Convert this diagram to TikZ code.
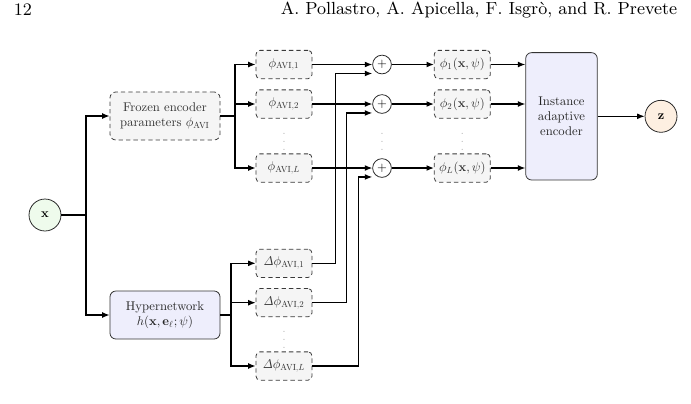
\documentclass[tikz,border=0pt]{standalone}
\usepackage{amsmath,amssymb,bm}
\usepackage{xcolor}
\usepackage{tikz}
\usetikzlibrary{arrows.meta,positioning,calc}
% figure is a scaled-down drawing: keep the 10pt design of CM at every size
\DeclareFontShape{OT1}{cmr}{m}{n}{<-> cmr10}{}
\DeclareFontShape{OT1}{cmr}{m}{it}{<-> cmti10}{}
\DeclareFontShape{OT1}{cmr}{bx}{n}{<-> cmbx10}{}
\DeclareFontShape{OML}{cmm}{m}{it}{<-> cmmi10}{}
\DeclareFontShape{OMS}{cmsy}{m}{n}{<-> cmsy10}{}
\definecolor{InGreen}{HTML}{EEFBEC}
\definecolor{OutPeach}{HTML}{FDEFE1}
\definecolor{NetLilac}{HTML}{EEEEFC}
\definecolor{ParGray}{HTML}{F5F5F5}
\definecolor{EdgeGray}{HTML}{3A3A3A}

\begin{document}
\begin{tikzpicture}[x=0.5128pt,y=-0.5128pt,
  font=\fontencoding{OT1}\fontfamily{cmr}\fontsize{6.5}{7.8}\selectfont,
  param/.style={draw=EdgeGray,dash pattern={on 2.2pt off 1.6pt},rounded corners=2pt,fill=ParGray,
    text=black!80,minimum width=28.7pt,minimum height=14.5pt,inner sep=1pt,align=center},
  netbox/.style={draw=black!80,rounded corners=3pt,fill=NetLilac,text=black!85,align=center},
  io/.style={draw=black!85,circle,minimum size=16.4pt,inner sep=0pt},
  sumnode/.style={draw=black!85,circle,minimum size=9.6pt,inner sep=0pt},
  arr/.style={-{Latex[length=3.8pt,width=3pt]},line width=0.6pt},
  wire/.style={line width=0.6pt},
  vdot/.style={text=black!30,font=\fontsize{5}{6}\selectfont}]
\useasboundingbox (0,0) rectangle (691,403);

% running head
\node[anchor=west,font=\small] (pg) at (7,10) {12};
\node[anchor=east,font=\small] (hd) at (684,10) {A. Pollastro, A. Apicella, F. Isgr\`o, and R. Prevete};

% input, frozen encoder, hypernetwork
\node[io,fill=InGreen] (x) at (45,215) {$\mathbf{x}$};
\node[param,minimum width=56.4pt,minimum height=24.6pt,rounded corners=3pt] (froz) at (165,116)
  {Frozen encoder\\parameters $\phi_{\mathrm{AVI}}$};
\node[netbox,minimum width=56.4pt,minimum height=24.6pt] (hyp) at (165,315)
  {Hypernetwork\\$h(\mathbf{x},\mathbf{e}_\ell;\psi)$};

% layer parameters, offsets, sums, adapted parameters
\foreach \i/\ya/\yd in {1/64.5/263.3,2/104/302.7,L/168/366}{
  \node[param] (a\i) at (284,\ya) {$\phi_{\mathrm{AVI},\i}$};
  \node[param] (d\i) at (284,\yd) {$\mathit{\Delta}\phi_{\mathrm{AVI},\i}$};
  \node[sumnode] (s\i) at (382,\ya) {$+$};
  \node[param] (b\i) at (462.3,\ya) {$\phi_\i(\mathbf{x},\psi)$};
}
\node[vdot] (va) at (284,136) {$\vdots$};
\node[vdot] (vd) at (284,334) {$\vdots$};
\node[vdot] (vs) at (382,136) {$\vdots$};
\node[vdot] (vb) at (462.3,136) {$\vdots$};

% instance adaptive encoder and output
\node[netbox,minimum width=36.7pt,minimum height=65.3pt] (enc) at (561.5,116.3)
  {Instance\\adaptive\\encoder};
\node[io,fill=OutPeach] (z) at (661,116.3) {$\mathbf{z}$};

% connectors
\coordinate (xs) at (86,215);
\coordinate (fs) at (235,116);
\coordinate (hs) at (231,315);
\draw[wire] (x) -- (xs);
\draw[arr] (xs) |- (froz);
\draw[arr] (xs) |- (hyp);
\draw[wire] (froz) -- (fs);
\draw[wire] (hyp) -- (hs);
\foreach \i/\dx in {1/23,2/34.3,L/46.3}{
  \draw[arr] (fs) |- (a\i);
  \draw[arr] (hs) |- (d\i);
  \draw[arr] (a\i) -- (s\i);
  \draw[arr] (d\i.east) -- ++(\dx,0) |- ([yshift=-4.6pt]s\i.west);
  \draw[arr] (s\i) -- (b\i);
  \draw[arr] (b\i) -- (b\i -| enc.west);
}
\draw[arr] (enc) -- (z);
\end{tikzpicture}
\end{document}
